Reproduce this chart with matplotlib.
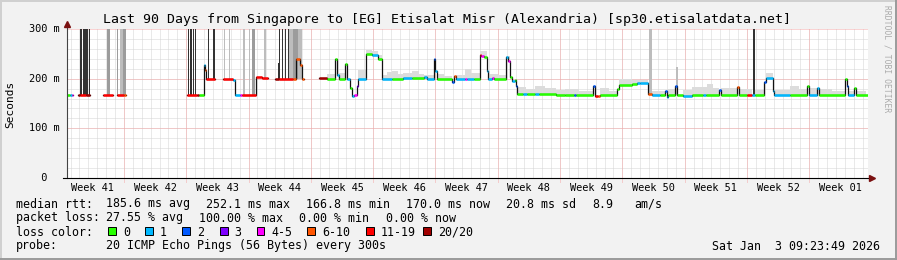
import matplotlib
matplotlib.use("Agg")
import matplotlib.pyplot as plt
import numpy as np
from matplotlib.patches import Rectangle
from matplotlib.lines import Line2D

plt.rcParams["font.family"] = ["DejaVu Sans Mono"]

W, H = 897, 260

title = "Last 90 Days from Singapore to [EG] Etisalat Misr (Alexandria) [sp30.etisalatdata.net]"

# x axis is days since the start of the graph
week_labels = ["Week 41", "Week 42", "Week 43", "Week 44", "Week 45", "Week 46", "Week 47",
               "Week 48", "Week 49", "Week 50", "Week 51", "Week 52", "Week 01"]
week_begin = [-0.6, 6.4, 13.4, 20.4, 27.4, 34.4, 41.4, 48.4, 55.4, 62.4, 69.4, 76.4, 83.4]

# median rtt (ms) as steps: interval i runs from med_t[i] to med_t[i+1]; None = no data
med_t = [0.00, 0.34, 0.56, 0.67, 1.24, 1.46, 2.13, 2.58, 4.04, 5.17, 5.62, 6.40, 6.63, 13.48, 14.61,
         14.83, 15.34, 15.51, 15.62, 16.63, 17.53, 18.65, 18.88, 19.44, 19.66, 21.24, 21.91, 22.58,
         23.37, 23.82, 25.39, 25.73, 26.18, 26.40, 26.63, 28.31, 29.21, 30.11, 30.34, 30.56, 31.24,
         31.46, 31.80, 32.02, 32.25, 32.58, 32.70, 33.60, 34.27, 34.94, 35.39, 36.52, 37.75, 38.76,
         40.11, 40.45, 41.18, 41.35, 41.57, 43.26, 43.48, 43.71, 44.72, 44.95, 45.70, 46.35, 46.52,
         46.85, 47.19, 47.30, 47.75, 47.98, 49.33, 49.55, 49.78, 50.00, 50.34, 50.45, 50.56, 51.20,
         51.70, 52.60, 53.00, 54.94, 55.96, 57.00, 57.20, 59.10, 59.38, 59.66, 59.89, 61.80, 62.02,
         63.48, 64.04, 64.38, 65.28, 65.73, 66.63, 67.19, 67.36, 67.53, 68.31, 68.54, 69.21, 70.22,
         71.50, 71.80, 73.26, 73.48, 75.28, 75.51, 76.40, 76.97, 77.30, 78.31, 78.54, 79.33, 79.44,
         81.24, 83.15, 83.37, 84.27, 84.49, 87.42, 87.64, 87.75, 88.43, 88.60, 90.00]
med_rtt = [167, 167, 167, None, 167, 167, 167, None, 167, None,
           167, 167, None, 167, 167, 167, 228, 218, 200, None,
           200, 198, 167, 167, 167, 203, 201, None, 200, 200,
           200, 239, 228, 200, None, 201, 200, 240, 208, 200,
           230, 200, 182, 166, 168, 186, 200, 249, 248, 240,
           200, 200, 202, 202, 203, 200, 240, 215, 200, 194,
           205, 200, 200, 200, 200, 247, 245, 243, 215, 200,
           201, 200, 243, 235, 203, 195, 198, 186, 169, 169,
           169, 169, 169, 167, 168, 168, 168, 186, 166, 166,
           168, 179, 187, 189, 191, 192, 169, 168, 168, 176,
           164, 168, 186, 168, 165, 168, 168, 168, 178, 168,
           183, 168, 168, 168, 168, 193, 201, 176, 167, 167,
           186, 168, 182, 168, 199, 186, 168, 182, 168]
med_loss = [0, 1, 4, None, 7, 6, 7, None, 6, None,
            6, 5, None, 6, 7, 0, 1, 5, 6, None,
            6, 1, 1, 4, 6, 6, 6, None, 7, 6,
            5, 5, 5, 5, None, 7, 0, 0, 1, 0,
            0, 1, 0, 1, 4, 3, 1, 0, 1, 0,
            1, 0, 1, 0, 1, 1, 2, 1, 0, 2,
            5, 1, 4, 1, 0, 6, 4, 0, 1, 1,
            4, 0, 1, 4, 0, 1, 0, 2, 0, 1,
            0, 1, 0, 0, 0, 2, 0, 2, 6, 5,
            0, 0, 0, 0, 1, 1, 5, 1, 0, 2,
            1, 0, 2, 0, 1, 0, 1, 0, 2, 0,
            5, 0, 6, 1, 0, 2, 1, 1, 1, 0,
            0, 1, 1, 0, 0, 2, 1, 0, 0]

loss_names = ["0", "1", "2", "3", "4-5", "6-10", "11-19", "20/20"]
loss_colors = ["#26ff00", "#00b8ff", "#0059ff", "#7e00ff", "#ff00ff", "#ff5500", "#ff0000", "#a10000"]

# light smoke above the median
smoke_t0 = [29.21, 30.56, 32.70, 33.60, 34.27, 34.94, 35.39, 36.00, 36.52, 37.20, 37.75, 38.76, 39.50,
            40.11, 41.57, 42.40, 43.71, 44.72, 45.40, 46.35, 47.30, 48.40, 49.33, 50.56, 51.60, 52.58,
            53.71, 54.94, 55.96, 57.50, 59.89, 60.90, 62.02, 63.48, 65.73, 67.53, 69.21, 70.22, 71.90,
            72.60, 73.48, 75.51, 77.30, 78.54, 79.44, 81.24, 82.20, 83.37, 84.49, 86.00, 87.75, 88.60]
smoke_t1 = [30.11, 31.24, 33.60, 34.27, 34.94, 35.39, 36.00, 36.52, 37.20, 37.75, 38.76, 39.50, 40.11,
            41.18, 42.40, 43.26, 44.72, 45.40, 46.35, 47.19, 48.40, 49.33, 49.78, 51.60, 52.58, 53.71,
            54.94, 55.96, 57.50, 59.10, 60.90, 61.80, 63.48, 65.28, 67.19, 68.31, 70.22, 71.90, 72.60,
            73.26, 75.28, 76.97, 78.31, 79.33, 81.24, 82.20, 83.15, 84.27, 86.00, 87.42, 88.43, 89.78]
smoke_lo = [200, 200, 200, 249, 248, 237, 200, 200, 200, 200, 202, 202, 202, 200, 200, 200, 200, 200,
            200, 243, 200, 200, 235, 169, 169, 169, 169, 167, 168, 168, 168, 168, 187, 189, 168, 168,
            165, 168, 168, 168, 168, 168, 168, 201, 167, 167, 167, 168, 168, 168, 168, 168]
smoke_hi = [210, 212, 218, 258, 256, 248, 208, 213, 215, 209, 212, 216, 210, 208, 210, 206, 208, 220,
            212, 255, 210, 207, 245, 184, 180, 186, 182, 178, 180, 176, 182, 176, 200, 198, 176, 180,
            178, 184, 190, 182, 182, 180, 178, 212, 178, 186, 180, 182, 180, 176, 176, 175]

# tall smoke bars (heavy loss periods), shade 1 light .. 3 dark
bar_t0 = [1.46, 1.83, 2.06, 2.44, 4.46, 5.62, 5.96, 6.29, 13.60, 13.82, 14.12, 14.35, 15.84, 16.37,
          17.64, 18.17, 19.74, 20.42, 20.79, 22.19, 23.71, 23.82, 24.16, 24.49, 24.78, 24.94, 25.39,
          25.95, 65.39, 68.48, 77.04]
bar_t1 = [1.69, 1.99, 2.36, 2.55, 4.83, 5.73, 6.29, 6.63, 13.74, 14.04, 14.27, 14.49, 15.99, 16.60,
          17.79, 18.31, 20.03, 20.56, 21.16, 22.36, 23.82, 23.93, 24.27, 24.66, 24.94, 25.39, 25.95,
          26.40, 65.73, 68.60, 77.30]
bar_base = [167, 167, 167, 167, 167, 167, 167, 167, 167, 167, 167, 167, 200, 200, 200, 200, 167, 167,
            167, 201, 200, 200, 200, 200, 200, 200, 200, 200, 168, 168, 168]
bar_top = [300, 300, 300, 300, 300, 300, 300, 300, 300, 300, 300, 300, 300, 300, 300, 300, 300, 300,
           300, 300, 232, 300, 300, 300, 300, 300, 300, 300, 300, 223, 300]
bar_shade = [3, 3, 3, 3, 2, 2, 1, 2, 3, 3, 3, 3, 3, 3, 1, 1, 1, 1, 2, 1, 3, 3, 3, 3, 3, 1, 2, 1, 1, 1, 3]
shade_colors = ["#dcdcdc", "#bdbdbd", "#9c9c9c", "#333333"]

rtt_stats = ["185.6 ms avg", "252.1 ms max", "166.8 ms min", "170.0 ms now", "20.8 ms sd", "8.9", "am/s"]
loss_stats = ["27.55 % avg", "100.00 % max", "0.00 % min", "0.00 % now"]
probe_text = "20 ICMP Echo Pings (56 Bytes) every 300s"
stamp = "Sat Jan  3 09:23:49 2026"


def fx(px):
    return px / W


def fy(py):
    return 1 - py / H


fig = plt.figure(figsize=(W / 100, H / 100), dpi=100, facecolor="#f2f2f2")
ax = fig.add_axes([67 / W, 82 / H, 801 / W, 149 / H])
ax.set_facecolor("white")
ax.set_xlim(0, 90)
ax.set_ylim(0, 300)
for s in ax.spines.values():
    s.set_visible(False)

# grid, dotted
dot = (0, (1, 1))
ax.vlines(np.arange(0.4, 90, 1.0), 0, 1, transform=ax.get_xaxis_transform(),
          colors="#d4d4d4", lw=0.72, linestyles=dot, zorder=0)
ax.hlines(np.arange(20, 300, 20), 0, 1, transform=ax.get_yaxis_transform(),
          colors="#d4d4d4", lw=0.72, linestyles=dot, zorder=0)
ax.vlines(week_begin[1:], -4 / 149, 1, transform=ax.get_xaxis_transform(),
          colors="#f5a8a8", lw=0.72, linestyles=dot, zorder=0.5, clip_on=False)
ax.hlines([100, 200, 300], 0, 1, transform=ax.get_yaxis_transform(),
          colors="#f5a8a8", lw=0.72, linestyles=dot, zorder=0.5)

# smoke
ax.bar(smoke_t0, np.array(smoke_hi) - np.array(smoke_lo), width=np.array(smoke_t1) - np.array(smoke_t0),
       bottom=smoke_lo, align="edge", color=shade_colors[0], linewidth=0, zorder=1)
ax.bar(bar_t0, np.array(bar_top) - np.array(bar_base), width=np.array(bar_t1) - np.array(bar_t0),
       bottom=bar_base, align="edge", color=[shade_colors[k] for k in bar_shade], linewidth=0, zorder=2)

# median: black step line, then coloured by loss
xs, ys = [], []
for t0, t1, r in zip(med_t[:-1], med_t[1:], med_rtt):
    if r is None:
        xs.append(np.nan)
        ys.append(np.nan)
    else:
        xs += [t0, t1]
        ys += [r, r]
ax.plot(xs, ys, color="#111111", lw=0.9, zorder=3)
for t0, t1, r, k in zip(med_t[:-1], med_t[1:], med_rtt, med_loss):
    if r is not None:
        ax.hlines(r, t0, t1, colors=loss_colors[k], lw=1.8, zorder=4, capstyle="butt")

# axes with arrows
ax.plot([0, 0], [0, 1 + 5 / 149], transform=ax.transAxes, color="#444444", lw=0.8, clip_on=False, zorder=5)
ax.plot([0], [1 + 5 / 149], transform=ax.transAxes, marker="^", ms=4, color="#7a1010", clip_on=False, zorder=6)
ax.plot([-4 / 801, 1 + 2 / 801], [0, 0], transform=ax.transAxes, color="black", lw=0.8, clip_on=False, zorder=5)
ax.plot([1 + 4 / 801], [0], transform=ax.transAxes, marker=">", ms=4, color="#7a1010", clip_on=False, zorder=6)

ax.set_xticks([b + 3.5 for b in week_begin], week_labels)
ax.tick_params(axis="x", length=0, pad=3.5, labelsize=7.4)
ax.set_yticks([])
for v, lab in zip([0, 100, 200, 300], ["  0", "100 m", "200 m", "300 m"]):
    ax.text(-37.5 / 801, v, lab, transform=ax.get_yaxis_transform(), ha="left", va="center", fontsize=7.4)

# texts
fig.text(fx(447), fy(19), title, ha="center", va="center", fontsize=9.5)
fig.text(fx(10), fy(104), "Seconds", rotation=90, ha="center", va="center", fontsize=8)
fig.text(fx(887), fy(5), "RRDTOOL / TOBI OETIKER", rotation=270, ha="center", va="top",
         fontsize=5.8, color="#ababab")

fs = 8.4
fig.text(fx(15.5), fy(204), "median rtt:", va="center", fontsize=fs)
for x, s in zip([107, 207, 307, 407, 507, 593, 635], rtt_stats):
    fig.text(fx(x - 1), fy(204), s, va="center", fontsize=fs)
fig.text(fx(15.5), fy(218), "packet loss:", va="center", fontsize=fs)
for x, s in zip([107, 200, 300, 386.7], loss_stats):
    fig.text(fx(x - 1), fy(218), s, va="center", fontsize=fs)
fig.text(fx(15.5), fy(232), "loss color:", va="center", fontsize=fs)
box_x = [108.3, 145, 182.3, 220, 256.7, 307.3, 366, 423.3]
for bx, name, c in zip(box_x, loss_names, loss_colors):
    fig.patches.append(Rectangle((fx(bx), fy(235)), 7.5 / W, 8 / H, transform=fig.transFigure,
                                 facecolor=c, edgecolor="black", lw=0.7))
    fig.text(fx(bx + 14.5), fy(232), name, va="center", fontsize=fs)
fig.text(fx(15.5), fy(246), "probe:", va="center", fontsize=fs)
fig.text(fx(106), fy(246), probe_text, va="center", fontsize=fs)
fig.text(fx(880), fy(246), stamp, ha="right", va="center", fontsize=fs)

# frame
fig.add_artist(Line2D([0, 1], [1 - 1 / H] * 2, color="#d0d0d0", lw=1.4))
fig.add_artist(Line2D([1 / W] * 2, [0, 1], color="#d0d0d0", lw=1.4))
fig.add_artist(Line2D([0, 1], [1 / H] * 2, color="#9a9a9a", lw=1.4))
fig.add_artist(Line2D([1 - 1 / W] * 2, [0, 1], color="#9a9a9a", lw=1.4))

fig.savefig("out.png", dpi=100, facecolor=fig.get_facecolor())
